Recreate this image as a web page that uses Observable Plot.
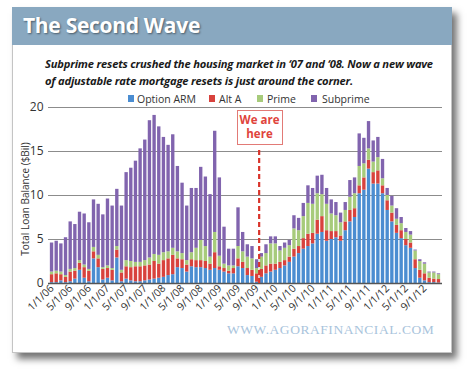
<!DOCTYPE html>
<html><head><meta charset="utf-8">
<script src="https://cdn.jsdelivr.net/npm/d3@7"></script>
<script src="https://cdn.jsdelivr.net/npm/@observablehq/plot@0.6"></script>
<style>
body{margin:0;background:#fff;width:470px;height:374px;overflow:hidden;font-family:"Open Sans",sans-serif;}
#wrap{position:relative;width:470px;height:374px;}
#panel{position:absolute;left:12px;top:7px;width:440px;height:346px;background:#fff;border:1px solid #c4c4c4;box-sizing:border-box;box-shadow:5px 6px 7px rgba(0,0,0,0.55);}
#band{position:absolute;left:12px;top:7px;width:440px;height:38px;background:#89a8c0;}
#title{position:absolute;left:23px;top:11px;color:#fff;font-family:"Open Sans";font-weight:700;font-size:21px;letter-spacing:-0.3px;text-shadow:1px 1px 2px rgba(0,0,0,.45);white-space:nowrap;}
.sub{position:absolute;left:45px;color:#1a1a1a;font-family:"Open Sans";font-weight:700;font-style:italic;font-size:11.2px;white-space:nowrap;letter-spacing:-0.2px;}
.lg{position:absolute;top:92px;font-size:10.5px;color:#333;white-space:nowrap;}
.sw{position:absolute;top:95px;width:6px;height:7px;}
#ylab{position:absolute;left:25px;top:199px;transform:translate(-50%,-50%) rotate(-90deg);font-size:10px;color:#333;white-space:nowrap;}
#here{position:absolute;left:237px;top:110px;width:46px;height:35px;box-sizing:border-box;border:1.5px solid #e27a76;background:#fff;}
.ht{position:absolute;left:0;width:43px;text-align:center;color:#e0443c;font-weight:700;font-size:11.5px;line-height:12px;white-space:nowrap;}
#wm{position:absolute;left:227px;top:322px;font-family:"Liberation Serif",serif;font-size:13.5px;color:#a9c4dc;letter-spacing:0.55px;white-space:nowrap;}
#chart{position:absolute;left:0;top:0;}
</style></head>
<body><div id="wrap">
<div id="panel"></div>
<div id="band"></div>
<div id="title">The Second Wave</div>
<div class="sub" style="top:56px">Subprime resets crushed the housing market in ‘07 and ‘08. Now a new wave</div>
<div class="sub" style="top:73px">of adjustable rate mortgage resets is just around the corner.</div>
<div id="chart"></div>
<div id="legend"></div>
<div id="ylab">Total Loan Balance ($Bil)</div>
<div id="here"><div class="ht" style="top:3px">We are</div><div class="ht" style="top:17px">here</div></div>
<div id="wm">WWW.AGORAFINANCIAL.COM</div>
</div>
<script>
const seriesNames = ["Option ARM", "Alt A", "Prime", "Subprime"];
const seriesColors = ["#4b8dd1", "#d8423d", "#a7cb7b", "#8164ae"];
const years = ["06","07","08","09","10","11","12"];
const months = [];
for (const y of years) for (let m = 1; m <= 12; m++) months.push(`${m}/1/${y}`);
const tickLabels = ["1/1/06","5/1/06","9/1/06","1/1/07","5/1/07","9/1/07","1/1/08","5/1/08","9/1/08","1/1/09","5/1/09","9/1/09","1/1/10","5/1/10","9/1/10","1/1/11","5/1/11","9/1/11","1/1/12","5/1/12","9/1/12"];
const yTicks = [0, 5, 10, 15, 20];
const hereMonth = "9/1/09";

const optionArm = [0.1,0.1,0.3,0.1,0.2,0.5,1.5,0.6,0.2,2.8,1.8,0.4,0.6,0.3,2.9,0.2,0.5,0.3,0.2,0.2,0.3,0.4,0.5,0.6,0.7,0.9,1.0,1.8,1.7,1.3,1.9,1.8,1.8,1.7,1.5,1.7,1.5,1.3,1.1,1.1,1.9,1.7,0.9,0.8,0.15,0.7,1.1,1.3,1.5,1.7,2.0,2.4,3.0,3.4,3.9,4.2,4.5,5.6,5.8,4.8,5.0,5.2,4.8,6.0,7.0,7.5,10.2,10.6,13.0,11.3,11.3,10.2,8.3,7.0,5.7,5.1,4.3,4.0,1.7,0.6,0.3,0.1,0.1,0.05];
const altA = [0.9,1.0,0.7,0.6,1.1,0.9,0.8,1.2,1.2,0.8,1.0,1.2,1.1,1.2,0.9,1.0,1.4,1.5,1.7,1.7,1.7,1.7,2.0,1.6,1.9,1.9,2.2,1.0,1.0,0.8,0.8,0.8,0.8,0.8,0.7,1.8,0.4,0.4,0.3,0.6,0.9,0.7,0.8,0.7,0.95,0.9,0.9,0.9,0.7,0.7,0.6,0.6,0.9,0.8,1.2,1.4,1.2,1.6,1.8,1.2,0.9,0.7,0.6,1.0,1.3,1.0,0.9,1.4,1.0,1.3,1.5,0.9,1.1,1.0,0.9,0.9,0.7,0.6,1.0,0.9,0.8,0.5,0.4,0.4];
const prime = [0.3,0.3,0.3,0.2,0.3,0.3,0.3,0.3,0.2,0.5,0.4,0.2,0.3,0.2,0.4,0.3,0.7,0.7,0.5,0.5,0.6,0.8,0.8,1.0,0.9,0.8,0.8,0.8,0.7,0.5,0.8,1.4,2.3,1.7,0.8,2.3,1.2,0.5,0.6,0.3,1.4,1.2,1.3,1.3,0.6,1.4,1.4,2.3,2.3,1.3,1.4,1.3,2.3,1.8,2.5,3.5,3.3,3.0,2.5,3.0,2.0,1.8,1.5,1.3,1.5,1.7,2.2,1.6,1.3,1.2,1.5,0.8,0.6,0.8,0.7,0.8,0.8,0.9,1.0,1.0,1.1,0.6,0.7,0.55];
const subprime = [3.3,3.4,3.2,4.3,5.4,5.0,5.5,5.8,5.3,5.4,5.8,6.0,7.6,7.1,6.5,7.3,10.0,10.6,11.5,12.9,13.7,15.6,15.8,14.6,13.1,12.1,12.9,9.7,8.0,6.2,7.3,6.8,8.3,7.9,7.1,11.5,8.9,4.2,1.9,1.9,4.4,2.2,1.4,1.4,1.0,0.4,1.0,0.8,0.8,0.5,0.6,0.6,1.5,1.4,1.5,2.0,1.8,2.0,2.2,1.8,1.6,1.5,1.1,0.9,1.9,1.8,3.7,2.9,3.1,2.4,2.3,2.2,0.8,1.1,1.2,0.7,0.45,0.4,0.1,0.2,0.15,0.1,0.1,0.1];

const seriesValues = [optionArm, altA, prime, subprime];
const rows = [];
months.forEach((m, i) => seriesNames.forEach((s, k) => rows.push({month: m, series: s, value: seriesValues[k][i]})));

const chart = Plot.plot({
  width: 470, height: 374,
  marginLeft: 48, marginRight: 28, marginTop: 107, marginBottom: 91,
  style: {background: "transparent", fontFamily: "Open Sans, sans-serif", color: "#333"},
  x: {type: "band", domain: months, paddingInner: 0.28, paddingOuter: 0.4},
  y: {domain: [0, 20]},
  color: {domain: seriesNames, range: seriesColors},
  marks: [
    Plot.ruleY(yTicks.filter(d => d > 0), {stroke: "#8c8c8c", strokeWidth: 1.2}),
    Plot.barY(rows, {x: "month", y: "value", fill: "series"}),
    Plot.ruleY([0], {stroke: "#555", strokeWidth: 1.6}),
    Plot.ruleX([hereMonth], {y1: 0, y2: 15.3, dx: 2, stroke: "#d9342b", strokeWidth: 2.2, strokeDasharray: "5,3"}),
    Plot.axisY(yTicks, {tickSize: 0, tickPadding: 5, fontSize: 12, label: null}),
    Plot.axisX(tickLabels, {tickSize: 0, tickPadding: 3, tickRotate: -45, fontSize: 10.5, label: null})
  ]
});
document.getElementById("chart").appendChild(chart);

const lgPos = [[128, 137], [209, 219], [257, 267], [311, 322]];
const lg = document.getElementById("legend");
seriesNames.forEach((s, k) => {
  const sw = document.createElement("div"); sw.className = "sw"; sw.style.left = lgPos[k][0] + "px"; sw.style.background = seriesColors[k]; lg.appendChild(sw);
  const t = document.createElement("div"); t.className = "lg"; t.style.left = lgPos[k][1] + "px"; t.textContent = s; lg.appendChild(t);
});
</script>
</body></html>
